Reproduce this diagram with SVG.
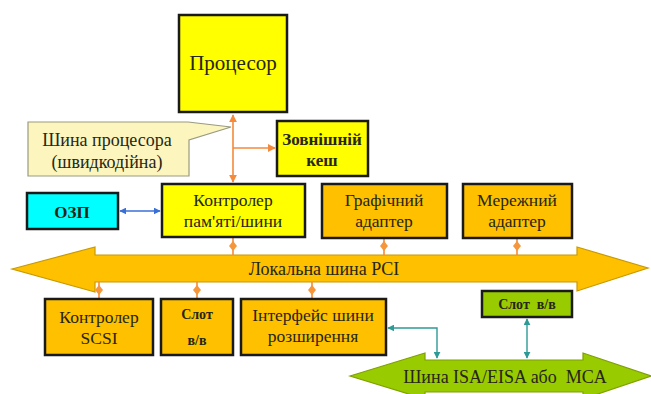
<svg xmlns="http://www.w3.org/2000/svg" width="651" height="394" viewBox="0 0 651 394">
  <style>
    .box { stroke: #1a1a1a; stroke-width: 2.5; }
    .yel { fill: #FFFF00; }
    .org { fill: #FFC000; }
    .cyan { fill: #00FFFF; }
    .grn { fill: #99CC00; }
    text { font-family: "Liberation Serif", "Times New Roman", serif; fill: #262614; text-anchor: middle; }
    .b { font-weight: bold; }
    .ol { stroke: #F58A3A; stroke-width: 1.6; fill: none; }
    .bl { stroke: #3A6FD8; stroke-width: 1.4; fill: none; }
    .tl { stroke: #2E9A96; stroke-width: 1.4; fill: none; }
    .dia { fill: #F5963A; }
  </style>
  <defs>
    <marker id="ao" viewBox="0 0 10 10" refX="9" refY="5" markerWidth="5" markerHeight="5" orient="auto-start-reverse">
      <path d="M0,0 L10,5 L0,10 z" fill="#F58A3A"/>
    </marker>
    <marker id="ab" viewBox="0 0 10 10" refX="9" refY="5" markerWidth="5" markerHeight="5" orient="auto-start-reverse">
      <path d="M0,0 L10,5 L0,10 z" fill="#3A6FD8"/>
    </marker>
    <marker id="at" viewBox="0 0 10 10" refX="9" refY="5" markerWidth="5" markerHeight="5" orient="auto-start-reverse">
      <path d="M0,0 L10,5 L0,10 z" fill="#2E9A96"/>
    </marker>
    <!-- small diamond tap on the bus -->
    <g id="tap">
      <path d="M0,-5 L4,0 L0,5 L-4,0 z" class="dia"/>
    </g>
  </defs>

  <!-- buses -->
  <g id="pci-bus">
    <path d="M12,269 L95,247 L95,255 L577,255 L577,247 L648,268 L577,291 L577,282 L95,282 L95,292 z" fill="#FFC000" stroke="#C89A00" stroke-width="1.2"/>
    <text x="324" y="275" font-size="18">Локальна шина PCI</text>
  </g>
  <g id="isa-bus">
    <path d="M350,376 L425,353 L425,360 L583,360 L583,353 L651,376 L583,399 L583,392 L425,392 L425,399 z" fill="#99CC00" stroke="#7FA000" stroke-width="1.2"/>
    <text x="505" y="383" font-size="18" xml:space="preserve">Шина ISA/EISA або  MCA</text>
  </g>

  <!-- connectors -->
  <g id="connectors">
    <line class="ol" x1="233" y1="115" x2="233" y2="182" marker-start="url(#ao)" marker-end="url(#ao)"/>
    <line class="ol" x1="233" y1="148" x2="275" y2="148" marker-end="url(#ao)"/>
    <line class="bl" x1="120" y1="211" x2="160" y2="211" marker-start="url(#ab)" marker-end="url(#ab)"/>
    <!-- PCI taps -->
    <line class="ol" x1="233" y1="238" x2="233" y2="255"/>
    <use href="#tap" x="233" y="246"/>
    <line class="ol" x1="384" y1="239" x2="384" y2="255"/>
    <use href="#tap" x="384" y="246"/>
    <line class="ol" x1="517" y1="239" x2="517" y2="255"/>
    <use href="#tap" x="517" y="246"/>
    <line class="ol" x1="99" y1="282" x2="99" y2="298"/>
    <use href="#tap" x="99" y="290"/>
    <line class="ol" x1="197" y1="282" x2="197" y2="298"/>
    <use href="#tap" x="197" y="290"/>
    <line class="ol" x1="312" y1="282" x2="312" y2="298"/>
    <use href="#tap" x="312" y="290"/>
    <!-- ISA links -->
    <polyline class="tl" points="388,328 437,328 437,358" marker-start="url(#at)" marker-end="url(#at)"/>
    <line class="tl" x1="527" y1="319" x2="527" y2="358" marker-start="url(#at)" marker-end="url(#at)"/>
  </g>

  <!-- nodes -->
  <g id="cpu">
    <rect class="box yel" x="179" y="15" width="108" height="97"/>
    <text x="233" y="70" font-size="21">Процесор</text>
  </g>
  <g id="cpu-bus-note">
    <path d="M28,122 L188,122 L231,127 L189,140 L189,176 L28,176 z" fill="#FCF6BE" stroke="#9A9A80" stroke-width="1.2"/>
    <text x="107" y="146" font-size="18">Шина процесора</text>
    <text x="107" y="168" font-size="18">(швидкодійна)</text>
  </g>
  <g id="cache">
    <rect class="box yel" x="277" y="121" width="91" height="55"/>
    <text class="b" x="322" y="145" font-size="17">Зовнішній</text>
    <text class="b" x="322" y="166" font-size="17">кеш</text>
  </g>
  <g id="ram">
    <rect class="box cyan" x="27" y="193" width="91" height="36"/>
    <text class="b" x="72" y="218" font-size="17">ОЗП</text>
  </g>
  <g id="mem-ctrl">
    <rect class="box yel" x="162" y="184" width="143" height="53"/>
    <text x="233" y="206" font-size="17.5">Контролер</text>
    <text x="233" y="227" font-size="17.5">пам'яті/шини</text>
  </g>
  <g id="gfx">
    <rect class="box org" x="322" y="184" width="125" height="54"/>
    <text x="384" y="206" font-size="17.5">Графічний</text>
    <text x="384" y="227" font-size="17.5">адаптер</text>
  </g>
  <g id="net">
    <rect class="box org" x="463" y="184" width="109" height="54"/>
    <text x="517" y="206" font-size="17.5">Мережний</text>
    <text x="517" y="227" font-size="17.5">адаптер</text>
  </g>
  <g id="scsi">
    <rect class="box org" x="45" y="299" width="108" height="56"/>
    <text x="99" y="323" font-size="17.5">Контролер</text>
    <text x="99" y="344" font-size="17.5">SCSI</text>
  </g>
  <g id="slot-pci">
    <rect class="box org" x="161" y="299" width="72" height="56"/>
    <text class="b" x="197" y="319" font-size="14">Слот</text>
    <text class="b" x="197" y="345" font-size="14">в/в</text>
  </g>
  <g id="bus-iface">
    <rect class="box org" x="241" y="299" width="145" height="56"/>
    <text x="313" y="321" font-size="17.5">Інтерфейс шини</text>
    <text x="313" y="342" font-size="17.5">розширення</text>
  </g>
  <g id="slot-isa">
    <rect class="box grn" x="482" y="291" width="90" height="26"/>
    <text class="b" x="527" y="309" font-size="14" xml:space="preserve">Слот  в/в</text>
  </g>
</svg>
